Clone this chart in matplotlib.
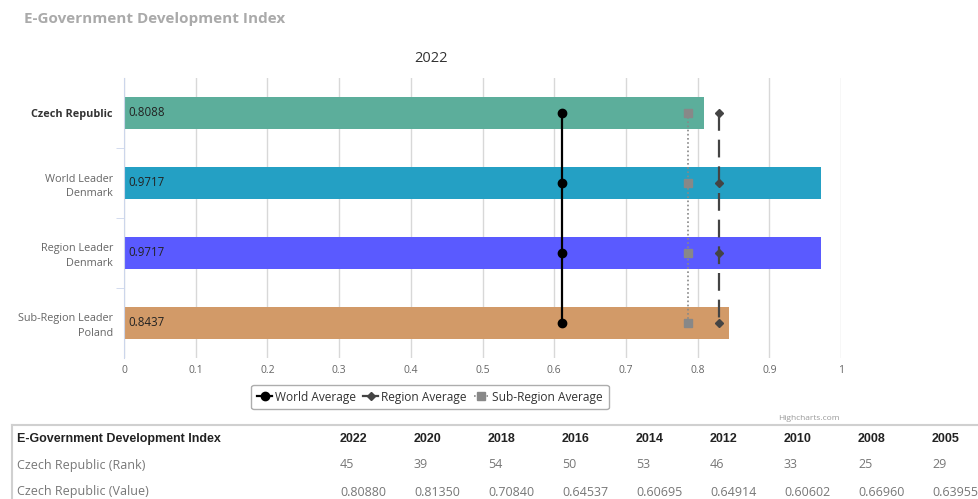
import matplotlib.pyplot as plt
from matplotlib.lines import Line2D

W, H = 979, 499

categories = ["Czech Republic", "World Leader\nDenmark", "Region Leader\nDenmark",
              "Sub-Region Leader\nPoland"]
values = [0.8088, 0.9717, 0.9717, 0.8437]
bar_colors = ["#5CAE9B", "#24A0C4", "#5A5AFF", "#D29A68"]
world_avg = 0.6102
region_avg = 0.8305
subregion_avg = 0.7865

years = ["2022", "2020", "2018", "2016", "2014", "2012", "2010", "2008", "2005"]
ranks = ["45", "39", "54", "50", "53", "46", "33", "25", "29"]
table_values = ["0.80880", "0.81350", "0.70840", "0.64537", "0.60695",
                "0.64914", "0.60602", "0.66960", "0.63955"]


def fx(x):
    return x / W


def fy(y):
    return 1 - y / H


plt.rcParams['font.family'] = ['Open Sans', 'DejaVu Sans']

fig = plt.figure(figsize=(W / 100, H / 100), dpi=100)
ax = fig.add_axes([fx(124), fy(358), fx(841) - fx(124), (358 - 78) / H])

ypos = list(range(len(categories)))
ax.barh(ypos, values, height=0.46, color=bar_colors, zorder=2)
for y, v in zip(ypos, values):
    ax.text(0.006, y, f"{v:.4f}", va="center", ha="left", fontsize=8.3, color="#222222", zorder=3)

ax.plot([world_avg] * 4, ypos, color="black", lw=1.6, marker="o", ms=6, zorder=4)
ax.plot([region_avg] * 4, ypos, color="#444444", lw=1.6, ls=(0, (8, 4)), marker="D", ms=4, zorder=4)
ax.plot([subregion_avg] * 4, ypos, color="#888888", lw=1.2, ls=(0, (1, 1.5)), marker="s", ms=6, zorder=4)

ax.set_xlim(0, 1)
ax.set_ylim(3.5, -0.5)
ax.set_xticks([i / 10 for i in range(11)])
ax.set_xticklabels(["0", "0.1", "0.2", "0.3", "0.4", "0.5", "0.6", "0.7", "0.8", "0.9", "1"])
ax.tick_params(axis="x", length=0, labelsize=7.5, labelcolor="#666666", pad=5)
ax.grid(axis="x", color="#d8d8d8", lw=1, zorder=0)
ax.set_yticks(ypos)
ax.set_yticklabels(categories, linespacing=1.5)
ax.tick_params(axis="y", length=0, labelsize=7.8, labelcolor="#666666", pad=8)
ax.set_yticks([0.5, 1.5, 2.5], minor=True)
ax.tick_params(axis="y", which="minor", length=6, color="#ccd6eb")
labels = ax.get_yticklabels()
labels[0].set_fontweight("bold")
labels[0].set_color("#333333")
for side in ["top", "right", "bottom"]:
    ax.spines[side].set_visible(False)
ax.spines["left"].set_color("#ccd6eb")

handles = [
    Line2D([], [], color="black", lw=1.6, marker="o", ms=6),
    Line2D([], [], color="#444444", lw=1.6, marker="D", ms=4),
    Line2D([], [], color="#888888", lw=1.2, ls=(0, (1, 1.5)), marker="s", ms=6),
]
leg = fig.legend(handles, ["World Average", "Region Average", "Sub-Region Average"],
                 loc="center", bbox_to_anchor=(fx(430), fy(397)), ncol=3, fontsize=8.6,
                 handlelength=1.2, handletextpad=0.3, columnspacing=0.6,
                 frameon=True, fancybox=True, edgecolor="#999999",
                 borderpad=0.5, labelcolor="#333333")
leg.get_frame().set_linewidth(1)

fig.text(fx(24), fy(19), "E-Government Development Index", fontsize=11, fontweight="bold",
         color="#aaaaaa", ha="left", va="center")
fig.text(fx(431), fy(58), "2022", fontsize=10.5, color="#333333", ha="center", va="center")
fig.text(fx(840), fy(418), "Highcharts.com", fontsize=6, color="#999999", ha="right", va="center")

# table underneath
fig.add_artist(Line2D([fx(12), fx(979)], [fy(425), fy(425)], color="#d0d0d0", lw=1.5))
fig.add_artist(Line2D([fx(12), fx(12)], [fy(425), fy(499)], color="#d0d0d0", lw=1.5))
col_x = [340 + 74 * i for i in range(len(years))]
fig.text(fx(17), fy(439), "E-Government Development Index", fontsize=9, fontweight="bold",
         family=["Liberation Sans", "DejaVu Sans"], color="#222222", va="center")
fig.text(fx(17), fy(465), "Czech Republic (Rank)", fontsize=9, color="#777777", va="center")
fig.text(fx(17), fy(492), "Czech Republic (Value)", fontsize=9, color="#777777", va="center")
for x, yr, rk, val in zip(col_x, years, ranks, table_values):
    fig.text(fx(x), fy(439), yr, fontsize=9, fontweight="bold",
             family=["Liberation Sans", "DejaVu Sans"], color="#222222", va="center")
    fig.text(fx(x), fy(465), rk, fontsize=9, color="#777777", va="center")
    fig.text(fx(x), fy(492), val, fontsize=9, color="#777777", va="center")

fig.savefig("out.png", dpi=100)
